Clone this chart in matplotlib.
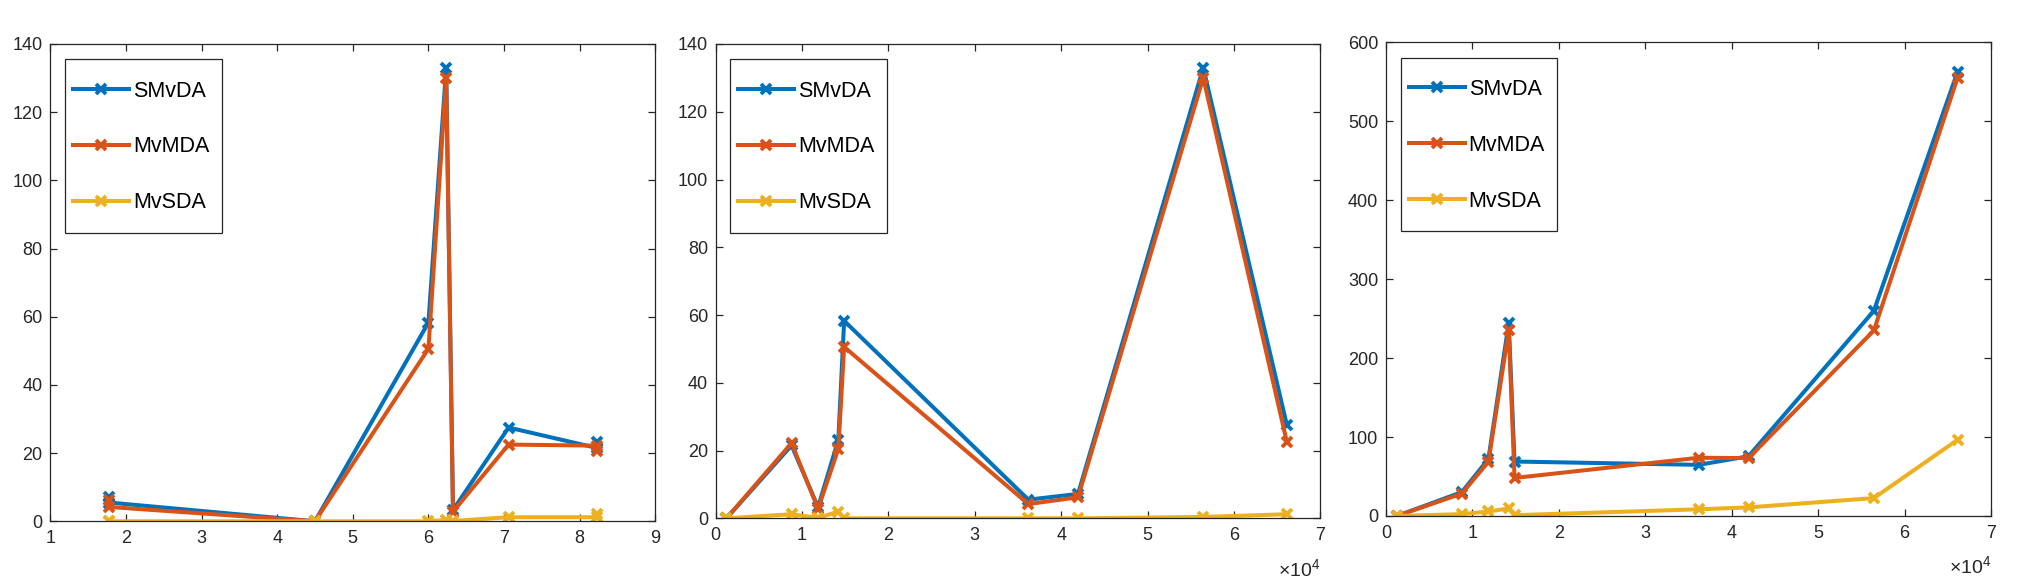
import numpy as np
import matplotlib
matplotlib.use("Agg")
import matplotlib.pyplot as plt
from matplotlib.lines import Line2D
from matplotlib.patches import Rectangle
from matplotlib.ticker import FuncFormatter

plt.rcParams["font.family"] = ["Liberation Sans", "DejaVu Sans"]
plt.rcParams["mathtext.fontset"] = "custom"
plt.rcParams["mathtext.rm"] = "Liberation Sans"

# sample sizes (x of panels 2 and 3) and the feature used as x in panel 1
n_samples = [1250, 8780, 11850, 14200, 14870, 36200, 41950, 56450, 66130]
feat = [4.5, 8.23, 6.325, 8.23, 6.0, 1.78, 1.77, 6.235, 7.06]

# panels 1 and 2
smvda_a = [0.0, 21.5, 3.3, 23.2, 58.3, 5.5, 7.2, 133.0, 27.5]
mvmda_a = [0.0, 22.2, 2.8, 20.5, 50.6, 4.2, 6.2, 130.0, 22.5]
mvsda_a = [0.0, 1.2, 0.1, 2.0, 0.0, 0.0, 0.0, 0.4, 1.2]

# panel 3
smvda_b = [0.0, 30.3, 72.3, 244.4, 69.0, 64.8, 75.7, 260.0, 562.6]
mvmda_b = [0.0, 28.4, 68.6, 235.0, 48.2, 73.8, 73.3, 235.0, 555.0]
mvsda_b = [0.0, 2.4, 5.7, 9.5, 1.0, 8.5, 10.9, 22.7, 96.5]

names = ["SMvDA", "MvMDA", "MvSDA"]
colors = ["#0072BD", "#D95319", "#EDB120"]
TXT = "#262626"
W, H = 2024, 586
LW, MS, MEW = 2.9, 7.5, 2.8


def style(ax, w_px, h_px):
    ax.tick_params(direction="in", length=5, width=0.9, top=True, right=True,
                   labelsize=13, colors=TXT)
    ax.tick_params(axis="x", pad=6.2)
    ax.tick_params(axis="y", pad=5.6)
    for s in ax.spines.values():
        s.set_color(TXT)
        s.set_linewidth(0.9)
    # MATLAB-style legend box: taller padding than matplotlib gives
    ax.add_patch(Rectangle((14.7 / w_px, 1 - (15.3 + 173.7) / h_px),
                           156.7 / w_px, 173.7 / h_px,
                           transform=ax.transAxes, facecolor="white",
                           edgecolor=TXT, lw=0.9, zorder=4.9))
    handles = [Line2D([], [], color=c, lw=LW, marker="x", ms=MS, mew=MEW)
               for c in colors]
    ax.legend(handles, names, loc="upper left",
              bbox_to_anchor=(14.7 / w_px, 1 - 28.6 / h_px),
              borderaxespad=0, fontsize=15.5, handlelength=2.6,
              handletextpad=0.19, labelspacing=1.62, borderpad=0.37,
              frameon=False)


def draw(ax, x, series):
    for y, c in zip(series, colors):
        ax.plot(x, y, color=c, lw=LW, marker="x", ms=MS, mew=MEW)


fig = plt.figure(figsize=(W / 100, H / 100), dpi=100)
# axes boxes in pixels: left, top, right, bottom
boxes = [(50.3, 44.0, 655.3, 521.3),
         (715.7, 44.0, 1320.3, 518.3),
         (1386.0, 42.3, 1991.0, 516.0)]
axes = []
for l, t, r, b in boxes:
    axes.append(fig.add_axes([l / W, (H - b) / H, (r - l) / W, (b - t) / H]))
ax1, ax2, ax3 = axes

order = np.argsort(feat, kind="stable")
f = np.array(feat)[order]
draw(ax1, f, [np.array(s)[order] for s in (smvda_a, mvmda_a, mvsda_a)])
ax1.set_xlim(1, 9)
ax1.set_ylim(0, 140)
ax1.set_yticks(np.arange(0, 141, 20))

draw(ax2, n_samples, [smvda_a, mvmda_a, mvsda_a])
ax2.set_xlim(0, 70000)
ax2.set_ylim(0, 140)
ax2.set_yticks(np.arange(0, 141, 20))

draw(ax3, n_samples, [smvda_b, mvmda_b, mvsda_b])
ax3.set_xlim(0, 70000)
ax3.set_ylim(0, 600)

for ax in (ax2, ax3):
    ax.set_xticks(np.arange(0, 70001, 10000))
    ax.xaxis.set_major_formatter(FuncFormatter(lambda v, p: f"{v / 1e4:g}"))
    ax.annotate(r"$\times10^{4}$", xy=(1, 0), xycoords="axes fraction",
                xytext=(0, -42), textcoords="offset points", ha="right",
                va="baseline", fontsize=14, color=TXT)

for ax, (l, t, r, b) in zip(axes, boxes):
    style(ax, r - l, b - t)

fig.savefig("out.png", dpi=100)
